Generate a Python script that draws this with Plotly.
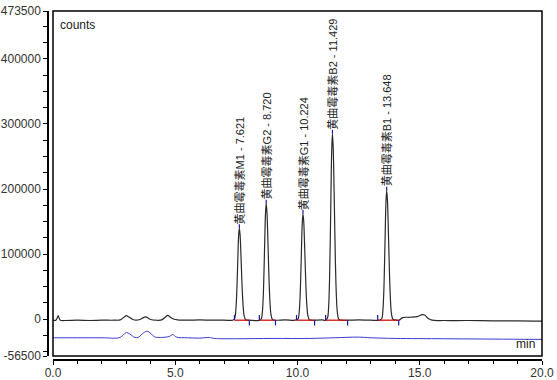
import plotly.graph_objects as go

# ---- data ----
peak_names = ["黄曲霉毒素M1", "黄曲霉毒素G2", "黄曲霉毒素G1", "黄曲霉毒素B2", "黄曲霉毒素B1"]
peak_rt = [7.621, 8.720, 10.224, 11.429, 13.648]
peak_height = [140000, 177500, 162000, 285000, 197500]
peak_start = [7.42, 8.44, 9.96, 11.15, 13.28]
peak_end = [8.03, 9.10, 10.70, 12.05, 14.14]
baseline_level = -1500

black_t = [0.0, 0.12, 0.17, 0.21, 0.25, 0.30, 0.5, 1.0, 1.5, 2.0, 2.5, 2.75, 2.9, 3.0, 3.1, 3.25, 3.4,
           3.55, 3.7, 3.8, 3.9, 4.0, 4.2, 4.45, 4.6, 4.7, 4.8, 4.95, 5.1, 5.5, 6.0, 6.5, 7.0, 7.35,
           7.421, 7.461, 7.501, 7.531, 7.561, 7.591, 7.621, 7.651, 7.681, 7.711, 7.741, 7.781, 7.821, 7.881, 7.971,
           8.45, 8.52, 8.56, 8.60, 8.63, 8.66, 8.69, 8.72, 8.75, 8.78, 8.81, 8.84, 8.88, 8.92, 8.98, 9.07,
           9.5, 9.9, 10.024, 10.064, 10.104, 10.134, 10.164, 10.194, 10.224, 10.254, 10.284, 10.314, 10.344,
           10.384, 10.424, 10.484, 10.57, 10.7, 11.0, 11.15,
           11.229, 11.269, 11.309, 11.339, 11.369, 11.399, 11.429, 11.459, 11.489, 11.519, 11.549, 11.589,
           11.629, 11.689, 11.78, 12.1, 12.5, 13.0, 13.35,
           13.448, 13.488, 13.528, 13.558, 13.588, 13.618, 13.648, 13.678, 13.708, 13.738, 13.768, 13.808,
           13.848, 13.908, 14.0, 14.15, 14.3, 14.6, 14.9, 15.1, 15.2, 15.35, 15.5, 16.0, 17.0, 18.0, 19.0, 20.0]
black_v = [-1500, -1500, 2000, 5500, 2000, -1500, -2000, -1500, -2000, -1500, -1500, -1000, 3000, 5500, 3500, 0, -1500,
           -500, 2500, 3500, 1500, -500, -1500, -1000, 3500, 6000, 3000, 0, -1000, -1500, -1000, -1500, -1500, -1500,
           300, 7400, 28200, 57900, 94700, 127300, 140000, 130100, 104600, 73500, 43800, 17600, 4700, -800, -1500,
           -1500, 800, 9800, 36100, 73700, 120200, 161400, 177500, 165000, 132800, 93400, 55800, 22700, 6400, -600, -1500,
           -1000, -1500, 600, 8800, 32800, 67200, 109700, 147300, 162000, 150600, 121100, 85200, 50800,
           20600, 5700, -700, -1500, -1500, -1000, -1500,
           2200, 16500, 58700, 118800, 193300, 259200, 285000, 264900, 213400, 150300, 90200, 37200,
           11100, -100, -1500, -1500, -1000, -1500, -1500,
           1100, 11000, 40300, 82100, 133800, 179600, 197500, 183600, 147800, 104000, 62200, 25400,
           7300, -500, -1000, -1500, 2500, 3000, 4000, 7000, 6500, 1000, -1500, -2000, -2000, -2500, -2500, -3000]

blue_t = [0, 1, 2, 2.7, 2.85, 3.0, 3.15, 3.35, 3.5, 3.7, 3.85, 4.0, 4.15, 4.4, 4.75, 4.9, 5.05, 5.5, 6.0,
          6.4, 6.6, 7.5, 9, 10.5, 11.5, 12.5, 13.0, 14, 16, 18, 20]
blue_v = [-28500, -28500, -28500, -28500, -25000, -20500, -23000, -28000, -27500, -21000, -18500, -22000,
          -27000, -28000, -26500, -23500, -27500, -28500, -29000, -28000, -29500, -30000, -29500, -29500,
          -28500, -27500, -28500, -29500, -30000, -30500, -31000]

y_tickvals = [473500, 400000, 300000, 200000, 100000, 0, -56500]
y_ticktext = ["473500", "400000", "300000", "200000", "100000", "0", "-56500"]
x_range = [0, 20]
y_range = [-56500, 473500]

# ---- figure ----
W, H = 557, 380
ml, mr, mt, mb = 48, 15, 11, 20
pw = W - ml - mr
ph = H - mt - mb
gap_x, gap_y = 5, 4

fig = go.Figure()

fig.add_trace(go.Scatter(x=blue_t, y=blue_v, mode="lines", line=dict(color="#3a3ad0", width=1),
                         line_shape="spline", hoverinfo="skip"))
fig.add_trace(go.Scatter(x=black_t, y=black_v, mode="lines", line=dict(color="#2a2a2a", width=1.2),
                         line_shape="spline", hoverinfo="skip"))

# integration baselines (red)
rx, ry = [], []
for s, e in zip(peak_start, peak_end):
    rx += [s, e, None]
    ry += [baseline_level, baseline_level, None]
fig.add_trace(go.Scatter(x=rx, y=ry, mode="lines", line=dict(color="#d01010", width=1.3), hoverinfo="skip"))

# start / end markers (blue ticks)
tick_up = 8000
tx, ty = [], []
for s, e in zip(peak_start, peak_end):
    tx += [s, s, None, e, e, None]
    ty += [baseline_level, baseline_level + tick_up, None, baseline_level, baseline_level - tick_up, None]
fig.add_trace(go.Scatter(x=tx, y=ty, mode="lines", line=dict(color="#1a1aa0", width=1.2), hoverinfo="skip"))

# apex markers
ax_, ay_ = [], []
for rt, h in zip(peak_rt, peak_height):
    ax_ += [rt, rt, None]
    ay_ += [h, h + 6000, None]
fig.add_trace(go.Scatter(x=ax_, y=ay_, mode="lines", line=dict(color="#1a1aa0", width=1.2), hoverinfo="skip"))

for name, rt, h in zip(peak_names, peak_rt, peak_height):
    fig.add_annotation(x=rt, y=h, text=f"{name} - {rt:.3f}", textangle=-90, showarrow=False,
                       xanchor="center", yanchor="bottom", yshift=2,
                       font=dict(size=11, color="#222222", family="Liberation Sans, Noto Sans CJK SC"))

# box around plot area
fig.add_shape(type="rect", xref="x domain", yref="y domain", x0=0, x1=1, y0=0, y1=1,
              line=dict(color="black", width=1.5), layer="above")

fig.add_annotation(xref="x domain", yref="y domain", x=0.01, y=0.985, text="counts", showarrow=False,
                   xanchor="left", yanchor="top", font=dict(size=12, color="#222222"))
fig.add_annotation(xref="x domain", yref="y domain", x=0.99, y=0.01, text="min", showarrow=False,
                   xanchor="right", yanchor="bottom", font=dict(size=12, color="#222222"))

fig.update_layout(
    width=W, height=H,
    margin=dict(l=ml, r=mr, t=mt, b=mb, pad=0, autoexpand=False),
    paper_bgcolor="white", plot_bgcolor="white",
    showlegend=False,
    font=dict(family="Liberation Sans, Arial, sans-serif", size=12, color="#333333"),
    xaxis=dict(range=x_range, domain=[gap_x / pw, 1], anchor="free", position=0, automargin=False,
               showgrid=False, zeroline=False, showline=True, linecolor="black", linewidth=1.5,
               ticks="outside", ticklen=4, tickcolor="black", dtick=5, tick0=0, tickformat=".1f",
               ticklabelstandoff=-2,
               minor=dict(dtick=1, tick0=0, ticks="outside", ticklen=3, tickcolor="black")),
    yaxis=dict(range=y_range, domain=[gap_y / ph, 1], anchor="free", position=0, automargin=False,
               showgrid=False, zeroline=False, showline=True, linecolor="black", linewidth=1.5,
               ticks="outside", ticklen=4, tickcolor="black",
               tickmode="array", tickvals=y_tickvals, ticktext=y_ticktext,
               minor=dict(tickmode="linear", dtick=25000, tick0=0, ticks="outside", ticklen=4,
                          tickcolor="black")),
)

fig.write_html("out.html", config={"displayModeBar": False},
               post_script="document.body.style.margin='0px';")
